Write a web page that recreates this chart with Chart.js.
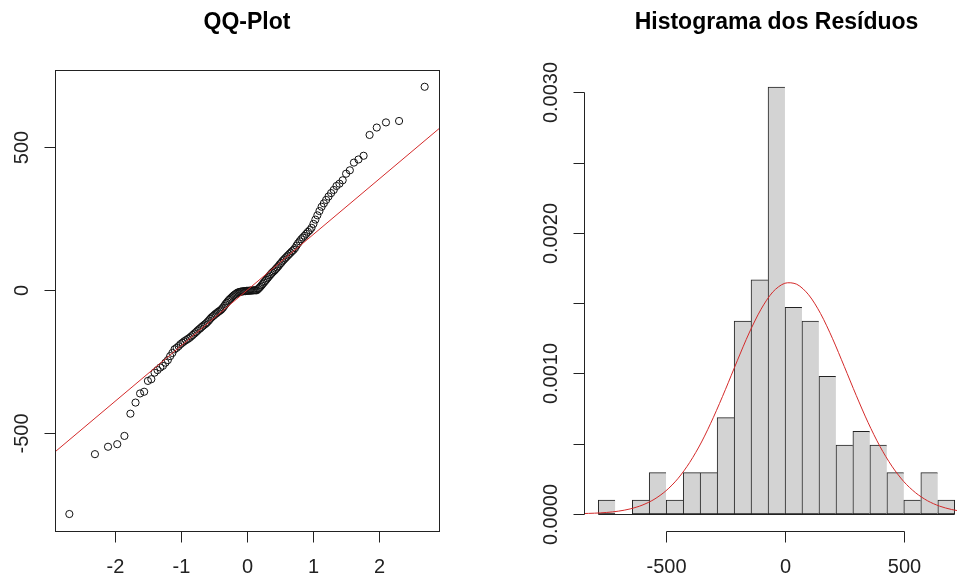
<!DOCTYPE html>
<html>
<head>
<meta charset="utf-8">
<script src="https://cdn.jsdelivr.net/npm/chart.js@4"></script>
<style>
  html, body { margin: 0; padding: 0; background: #fff; overflow: hidden; }
  #qqBox { position: absolute; left: 0; top: 0; }
  #histBox { position: absolute; left: 480px; top: 0; }
</style>
</head>
<body>
<div id="qqBox"><canvas id="qqChart" width="480" height="579"></canvas></div>
<div id="histBox"><canvas id="histChart" width="489" height="579"></canvas></div>
<script>
// QQ plot: theoretical normal quantiles vs sorted residuals
const qqTheoretical = [
  -2.700, -2.311, -2.112, -1.972, -1.863, -1.772, -1.694, -1.625, -1.563, -1.506,
  -1.454, -1.405, -1.360, -1.318, -1.278, -1.239, -1.203, -1.168, -1.134, -1.101,
  -1.069, -1.039, -1.010, -0.981, -0.954, -0.927, -0.900, -0.874, -0.849, -0.824,
  -0.800, -0.776, -0.753, -0.730, -0.708, -0.685, -0.664, -0.642, -0.621, -0.600,
  -0.579, -0.559, -0.538, -0.518, -0.498, -0.479, -0.459, -0.440, -0.421, -0.402,
  -0.383, -0.365, -0.346, -0.328, -0.310, -0.292, -0.274, -0.256, -0.238, -0.220,
  -0.202, -0.184, -0.167, -0.149, -0.131, -0.113, -0.096, -0.078, -0.061, -0.044,
  -0.026, -0.009,
  0.009, 0.026, 0.044, 0.061, 0.078, 0.096, 0.113, 0.131, 0.149, 0.167,
  0.184, 0.202, 0.220, 0.238, 0.256, 0.274, 0.292, 0.310, 0.328, 0.346,
  0.365, 0.383, 0.402, 0.421, 0.440, 0.459, 0.479, 0.498, 0.518, 0.538,
  0.559, 0.579, 0.600, 0.621, 0.642, 0.664, 0.685, 0.708, 0.730, 0.753,
  0.776, 0.800, 0.824, 0.849, 0.874, 0.900, 0.927, 0.954, 0.981, 1.010,
  1.039, 1.069, 1.101, 1.134, 1.168, 1.203, 1.239, 1.278, 1.318, 1.360,
  1.405, 1.454, 1.506, 1.563, 1.625, 1.694, 1.772, 1.863, 1.972, 2.112,
  2.311, 2.700
];
const qqSample = [
  -786, -576, -550, -541, -512, -434, -395, -363, -357, -319, -313, -290,
  -281, -272, -266, -255, -246, -232, -221,
  -208, -203, -197, -190, -185, -180, -176, -172, -168, -163, -158, -153, -148, -143,
  -138, -134, -129, -125, -121, -117, -112, -107, -101, -96, -92, -88, -84, -81, -77, -74, -71,
  -67, -62, -56, -50, -45, -40, -35, -31, -27, -23, -19, -16, -13, -10, -8,
  -7, -6, -5, -5, -4, -4, -3, -3, -3, -2, -2, -2, -1, -1, -1, -1,
  3, 7, 11, 16, 21, 26, 31, 36, 41, 46, 51, 56, 61, 65, 69,
  74, 79, 84, 90, 95, 101, 106, 111, 116, 121, 126, 131, 136, 141,
  147, 156, 164, 171, 178, 184, 190, 197, 204, 210,
  218, 232, 247, 262, 277,
  292, 304, 316, 328, 340, 351,
  365, 373, 385, 408, 420,
  447, 458, 471,
  544,
  570, 588, 593,
  713
];
// reference line end points
const qqLineX = [-3, 3];
const qqLineY = [-584, 582];
const qqXTicks = [-2, -1, 0, 1, 2];
const qqYTicks = [-500, 0, 500];

// histogram of residuals (density scale)
const binEdges = [-784, -713, -641, -570, -499, -427, -356, -285, -213, -142, -71,
                  1, 72, 143, 215, 286, 357, 429, 500, 571, 643, 714];
const binDensity = [0.000098, 0, 0.000098, 0.000294, 0.000098, 0.000294, 0.000294,
                    0.000686, 0.001372, 0.001666, 0.003038, 0.00147, 0.001372,
                    0.00098, 0.00049, 0.000588, 0.00049, 0.000294, 0.000098,
                    0.000294, 0.000098];
// fitted normal curve
const curveX = [-850, -800, -750, -700, -650, -600, -550, -500, -450, -400, -350,
                -300, -250, -200, -150, -100, -50, 0, 50, 100, 150, 200, 250,
                300, 350, 400, 450, 500, 550, 600, 650, 700, 750, 800];
const curveY = [0.0000026, 0.0000053, 0.0000104, 0.0000196, 0.0000357, 0.000062,
                0.000103, 0.000164, 0.00025, 0.000366, 0.000512, 0.000688,
                0.000884, 0.00109, 0.001288, 0.001457, 0.001581, 0.001642,
                0.001635, 0.00156, 0.001427, 0.00125, 0.001049, 0.000844,
                0.00065, 0.00048, 0.00034, 0.00023, 0.00015, 0.0000933,
                0.0000557, 0.0000318, 0.0000174, 0.0000091];
const histXTicks = [-500, 0, 500];
const histYTicks = [0, 0.0005, 0.001, 0.0015, 0.002, 0.0025, 0.003];
const histYLabels = ['0.0000', '', '0.0010', '', '0.0020', '', '0.0030'];

const FONT = '"Liberation Sans", Arial, sans-serif';
const INK = '#222';

// base-graphics style axes: short axis lines, outward ticks, rotated y labels
const rAxes = {
  id: 'rAxes',
  afterDraw(chart, args, opts) {
    const { ctx, chartArea: a, scales: { x, y } } = chart;
    ctx.save();
    ctx.strokeStyle = INK;
    ctx.fillStyle = INK;
    ctx.lineWidth = 1;
    ctx.font = '20px ' + FONT;

    if (opts.box) {
      ctx.strokeRect(Math.round(a.left) + 0.5, Math.round(a.top) + 0.5,
                     Math.round(a.right - a.left), Math.round(a.bottom - a.top));
    }
    if (opts.baseline) {
      const bars = chart.getDatasetMeta(opts.baseline).data;
      const first = bars[0], last = bars[bars.length - 1];
      const py = Math.round(y.getPixelForValue(0)) + 0.5;
      ctx.beginPath();
      ctx.moveTo(first.x - first.width / 2, py);
      ctx.lineTo(last.x + last.width / 2, py);
      ctx.stroke();
    }

    // x axis
    const yb = Math.round(a.bottom) + 0.5;
    const xs = opts.xTicks.map(v => Math.round(x.getPixelForValue(v)) + 0.5);
    ctx.beginPath();
    ctx.moveTo(xs[0], yb);
    ctx.lineTo(xs[xs.length - 1], yb);
    xs.forEach(px => { ctx.moveTo(px, yb); ctx.lineTo(px, yb + 11); });
    ctx.stroke();
    ctx.textAlign = 'center';
    ctx.textBaseline = 'middle';
    opts.xTicks.forEach((v, i) => ctx.fillText(opts.xLabels[i], xs[i], a.bottom + 36));

    // y axis
    const xl = Math.round(a.left) + 0.5;
    const ys = opts.yTicks.map(v => Math.round(y.getPixelForValue(v)) + 0.5);
    ctx.beginPath();
    ctx.moveTo(xl, ys[0]);
    ctx.lineTo(xl, ys[ys.length - 1]);
    ys.forEach(py => { ctx.moveTo(xl, py); ctx.lineTo(xl - 11, py); });
    ctx.stroke();
    opts.yTicks.forEach((v, i) => {
      if (!opts.yLabels[i]) return;
      ctx.save();
      ctx.translate(a.left - 33, ys[i]);
      ctx.rotate(-Math.PI / 2);
      ctx.fillText(opts.yLabels[i], 0, 0);
      ctx.restore();
    });
    ctx.restore();
  }
};

const titleFont = { family: FONT, size: 23, weight: 'bold' };

new Chart(document.getElementById('qqChart').getContext('2d'), {
  type: 'scatter',
  data: {
    datasets: [{
      type: 'line',
      data: qqLineX.map((v, i) => ({ x: v, y: qqLineY[i] })),
      borderColor: '#d42a2a',
      borderWidth: 1,
      pointRadius: 0
    }, {
      data: qqTheoretical.map((v, i) => ({ x: v, y: qqSample[i] })),
      pointRadius: 3.6,
      pointBorderWidth: 1,
      borderColor: '#111',
      backgroundColor: 'rgba(0,0,0,0)'
    }]
  },
  options: {
    responsive: false,
    animation: false,
    devicePixelRatio: 1,
    layout: { padding: { left: 55, right: 41, top: 9, bottom: 48 } },
    scales: {
      x: { type: 'linear', min: -2.918, max: 2.918, display: false },
      y: { type: 'linear', min: -845.6, max: 771.9, display: false }
    },
    plugins: {
      legend: { display: false },
      tooltip: { enabled: false },
      title: {
        display: true, text: 'QQ-Plot', color: '#000', font: titleFont,
        padding: { top: 0, bottom: 33.4 }
      },
      rAxes: {
        box: true,
        xTicks: qqXTicks, xLabels: qqXTicks.map(String),
        yTicks: qqYTicks, yLabels: qqYTicks.map(String)
      }
    }
  },
  plugins: [rAxes]
});

const binData = binDensity.map((d, i) => ({ x: (binEdges[i] + binEdges[i + 1]) / 2, y: d }));
const lastBin = binDensity.length - 1;

new Chart(document.getElementById('histChart').getContext('2d'), {
  type: 'bar',
  data: {
    datasets: [{
      type: 'line',
      data: curveX.map((v, i) => ({ x: v, y: curveY[i] })),
      borderColor: '#d42a2a',
      borderWidth: 1,
      pointRadius: 0,
      tension: 0.3
    }, {
      type: 'bar',
      data: binData,
      backgroundColor: '#d3d3d3',
      borderColor: INK,
      borderSkipped: false,
      borderWidth: ctx => ({ top: 1, bottom: 1, left: 1, right: ctx.dataIndex === lastBin ? 1 : 0 }),
      barPercentage: 1,
      categoryPercentage: 1
    }]
  },
  options: {
    responsive: false,
    animation: false,
    devicePixelRatio: 1,
    layout: { padding: { left: 104, right: 0, top: 9, bottom: 48 } },
    scales: {
      x: { type: 'linear', min: -844, max: 774, offset: false, display: false },
      y: { type: 'linear', min: -0.0001215, max: 0.00316, display: false }
    },
    plugins: {
      legend: { display: false },
      tooltip: { enabled: false },
      title: {
        display: true, text: 'Histograma dos Resíduos', color: '#000', font: titleFont,
        padding: { top: 0, bottom: 33.4 }
      },
      rAxes: {
        box: false,
        baseline: 1,
        xTicks: histXTicks, xLabels: histXTicks.map(String),
        yTicks: histYTicks, yLabels: histYLabels
      }
    }
  },
  plugins: [rAxes]
});
</script>
</body>
</html>
